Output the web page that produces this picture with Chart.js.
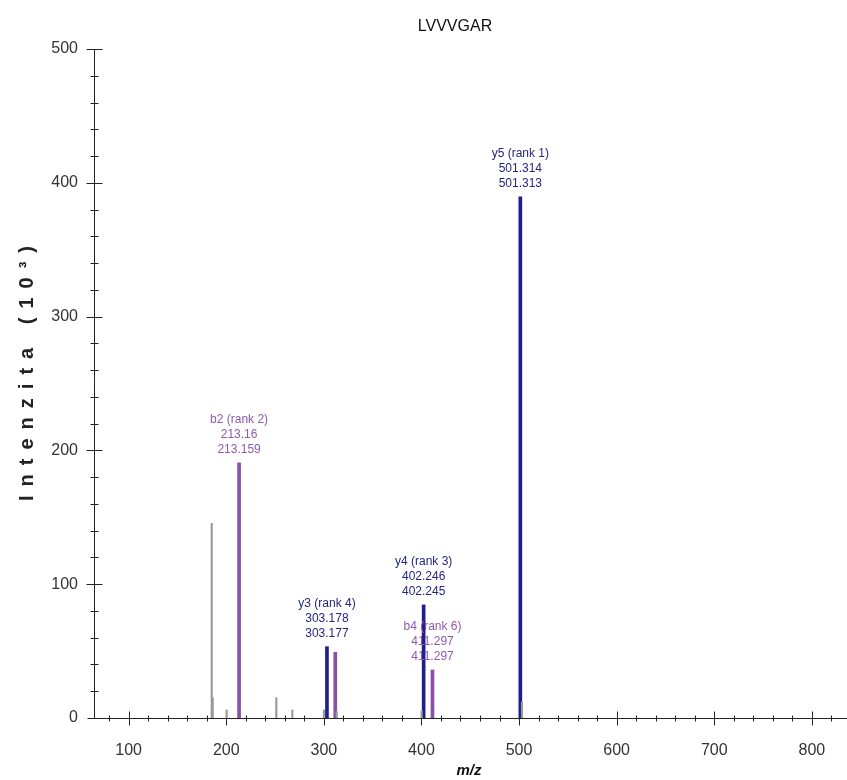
<!DOCTYPE html>
<html>
<head>
<meta charset="utf-8">
<script src="https://cdn.jsdelivr.net/npm/chart.js@4"></script>
<style>
  html, body { margin: 0; padding: 0; background: #fff; }
</style>
</head>
<body>
<canvas id="spectrumChart" width="847" height="780"></canvas>
<script>
const chartTitle = 'LVVVGAR';
const xAxisTitle = 'm/z';
const yAxisTitle = 'Intenzita (10³)';

// unassigned peaks (grey)
const otherMz = [185.1, 186.1, 200.4, 251.3, 267.7, 300.1, 313.2, 400.2, 503.0];
const otherInt = [145.5, 15.2, 6, 15.2, 6, 6, 5, 5.3, 12];

// b ions (purple)
const bMz = [213.16, 311.7, 411.297];
const bInt = [190.8, 49.1, 35.9];
const bLabels = [['b2 (rank 2)', '213.16', '213.159'], null, ['b4 (rank 6)', '411.297', '411.297']];

// y ions (blue)
const yMz = [303.178, 402.246, 501.314];
const yInt = [53.3, 84.5, 389.5];
const yLabels = [['y3 (rank 4)', '303.178', '303.177'], ['y4 (rank 3)', '402.246', '402.245'], ['y5 (rank 1)', '501.314', '501.313']];

const xTickValues = [80, 100, 120, 140, 160, 180, 200, 220, 240, 260, 280, 300, 320, 340, 360, 380, 400,
  420, 440, 460, 480, 500, 520, 540, 560, 580, 600, 620, 640, 660, 680, 700, 720, 740, 760, 780, 800, 820];
const yTickValues = [0, 20, 40, 60, 80, 100, 120, 140, 160, 180, 200, 220, 240, 260, 280, 300,
  320, 340, 360, 380, 400, 420, 440, 460, 480, 500];

const FONT = "'Liberation Sans', Arial, sans-serif";
const toPoints = (xs, ys) => xs.map((x, i) => ({ x: x, y: ys[i] }));

const axesPlugin = {
  id: 'axes',
  beforeDatasetsDraw(chart) {
    const { ctx, chartArea, scales } = chart;
    const x0 = Math.round(chartArea.left) + 0.5;
    const y0 = Math.round(chartArea.bottom) + 0.5;
    ctx.save();
    ctx.strokeStyle = '#222';
    ctx.lineWidth = 1;
    ctx.beginPath();
    ctx.moveTo(x0, chartArea.top);
    ctx.lineTo(x0, y0);
    ctx.moveTo(x0 - 7, y0);
    ctx.lineTo(chartArea.right, y0);
    xTickValues.forEach(v => {
      const px = Math.round(scales.x.getPixelForValue(v)) + 0.5;
      const len = v % 100 === 0 ? 7 : 3;
      ctx.moveTo(px, y0 - len);
      ctx.lineTo(px, y0 + len);
    });
    yTickValues.forEach(v => {
      if (v === 0) return;
      const py = Math.round(scales.y.getPixelForValue(v)) + 0.5;
      const len = v % 100 === 0 ? 8 : 4;
      ctx.moveTo(x0 - len, py);
      ctx.lineTo(x0 + len, py);
    });
    ctx.stroke();
    ctx.restore();
  },
  afterDraw(chart) {
    const { ctx } = chart;
    ctx.save();
    // peak annotations
    chart.data.datasets.forEach((ds, di) => {
      if (!ds.peakLabels) return;
      const meta = chart.getDatasetMeta(di);
      ctx.font = '12px ' + FONT;
      ctx.fillStyle = ds.labelColor;
      ctx.textAlign = 'center';
      ctx.textBaseline = 'middle';
      ds.peakLabels.forEach((lines, j) => {
        if (!lines) return;
        const bar = meta.data[j];
        lines.forEach((t, k) => {
          ctx.fillText(t, bar.x, bar.y - 13 - (lines.length - 1 - k) * 15);
        });
      });
    });
    // titles
    ctx.fillStyle = '#111';
    ctx.textAlign = 'center';
    ctx.textBaseline = 'middle';
    ctx.font = '16px ' + FONT;
    ctx.fillText(chartTitle, 455, 27);
    ctx.font = 'italic bold 15px ' + FONT;
    ctx.fillText(xAxisTitle, 469, 771);
    ctx.translate(27, 373);
    ctx.rotate(-Math.PI / 2);
    ctx.font = 'bold 20px ' + FONT;
    ctx.letterSpacing = '9px';
    ctx.fillStyle = '#222';
    ctx.fillText(yAxisTitle, 4, 0);
    ctx.restore();
  }
};

new Chart(document.getElementById('spectrumChart'), {
  type: 'bar',
  data: {
    datasets: [{
      data: toPoints(otherMz, otherInt),
      backgroundColor: '#9a9a9a',
      barThickness: 1.5,
      grouped: false,
    }, {
      data: toPoints(bMz, bInt),
      backgroundColor: '#8a4fa8',
      barThickness: 3,
      grouped: false,
      peakLabels: bLabels,
      labelColor: '#8d5aad',
    }, {
      data: toPoints(yMz, yInt),
      backgroundColor: '#1e1e8e',
      barThickness: 3,
      grouped: false,
      peakLabels: yLabels,
      labelColor: '#25257f',
    }]
  },
  options: {
    responsive: false,
    animation: false,
    layout: { padding: { top: 49, right: 0, left: 0, bottom: 0 } },
    plugins: {
      legend: { display: false },
      tooltip: { enabled: false },
    },
    scales: {
      x: {
        type: 'linear',
        offset: false,
        min: 64.5,
        max: 836,
        grid: { display: false },
        border: { display: false },
        afterBuildTicks: s => { s.ticks = xTickValues.map(v => ({ value: v })); },
        afterFit: s => { s.height = 780 - 718; },
        ticks: {
          autoSkip: false,
          maxRotation: 0,
          padding: 15,
          color: '#333',
          font: { family: FONT, size: 16 },
          callback: v => (v % 100 === 0 ? v : ''),
        },
      },
      y: {
        min: 0,
        max: 500,
        grid: { display: false },
        border: { display: false },
        afterBuildTicks: s => { s.ticks = yTickValues.map(v => ({ value: v })); },
        afterFit: s => { s.width = 94; },
        ticks: {
          autoSkip: false,
          padding: 8,
          color: '#333',
          font: { family: FONT, size: 16 },
          callback: v => (v % 100 === 0 ? v : ''),
        },
      },
    },
  },
  plugins: [axesPlugin],
});
</script>
</body>
</html>
